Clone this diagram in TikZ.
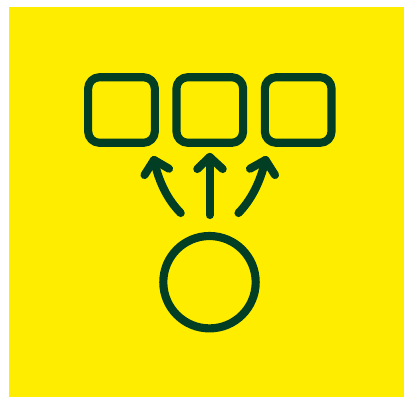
\documentclass[tikz,border=0pt]{standalone}
\definecolor{bgyellow}{RGB}{255,237,0}
\definecolor{ink}{RGB}{2,62,36}
\tikzset{
  every node/.style={inner sep=0pt,outer sep=0pt},
  ico/.style={draw=ink,line width=6.1pt,line cap=round,line join=round},
  squarebox/.style={ico,rectangle,rounded corners=8.5pt,minimum width=50pt,minimum height=49.2pt},
  roundbox/.style={ico,circle,minimum size=69.3pt}
}
\begin{document}
\begin{tikzpicture}[x=0.75pt,y=-0.75pt]
\useasboundingbox (0,0) rectangle (404,397);
\fill[bgyellow] (9,7) rectangle (404,397);
\node[squarebox] (b1) at (121.5,110) {};
\node[squarebox] (b2) at (209.8,110) {};
\node[squarebox] (b3) at (298.2,110) {};
\node[roundbox] (c) at (209.5,282.2) {};
\coordinate (ls) at (180.7,213);
\coordinate (lt) at (154,160);
\coordinate (la) at (144.5,175);
\coordinate (lb) at (169,168.7);
\coordinate (ms) at (209.7,215);
\coordinate (mt) at (209.7,157);
\coordinate (ma) at (197.3,169);
\coordinate (mb) at (222.7,169);
\coordinate (rs) at (238.5,213);
\coordinate (rt) at (265.5,160);
\coordinate (ra) at (250,168.7);
\coordinate (rb) at (275,175);
\draw[ico] (ls) .. controls (168,200) and (159,183) .. (lt);
\draw[ico] (la) -- (lt) -- (lb);
\draw[ico] (ms) -- (mt);
\draw[ico] (ma) -- (mt) -- (mb);
\draw[ico] (rs) .. controls (251,200) and (260,183) .. (rt);
\draw[ico] (ra) -- (rt) -- (rb);
\end{tikzpicture}
\end{document}
